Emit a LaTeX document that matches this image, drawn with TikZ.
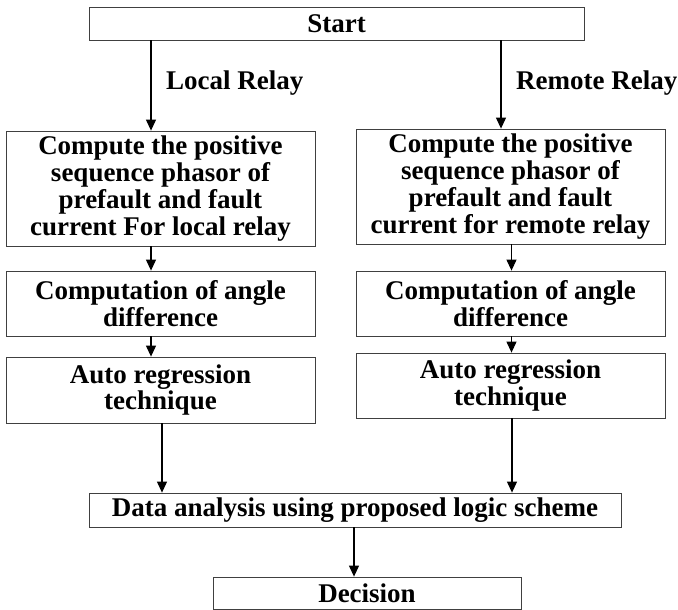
\documentclass[tikz,border=0pt]{standalone}
\usepackage{fontspec}
\setmainfont{Liberation Serif}
\usetikzlibrary{arrows.meta}

\begin{document}
\begin{tikzpicture}[x=1pt, y=-1pt,
	box/.style={rectangle, draw=black!75, line width=0.8pt, fill=white, align=center, inner sep=0pt, minimum width=309pt, font=\fontsize{27}{26.7}\selectfont\bfseries},
	lbl/.style={anchor=west, inner sep=0pt, font=\fontsize{27}{26.7}\selectfont\bfseries},
	arr/.style={-{Triangle[width=10pt,length=11pt]}, draw=black, line width=1.1pt}]
	\useasboundingbox (0,0) rectangle (678,610);
	\node (Start) at (336.5, 23.5)	[box, minimum width=495pt, minimum height=33pt]	{Start};
	\node (L1) at (160.5, 188.5)	[box, minimum height=115pt]	{Compute the positive\\sequence phasor of\\prefault and fault\\current For local relay};
	\node (R1) at (510.5, 186.5)	[box, minimum height=115pt]	{Compute the positive\\sequence phasor of\\prefault and fault\\current for remote relay};
	\node (L2) at (160.5, 303.5)	[box, minimum height=65pt]	{Computation of angle\\difference};
	\node (R2) at (510.5, 303.5)	[box, minimum height=65pt]	{Computation of angle\\difference};
	\node (L3) at (160.5, 390)	[box, minimum height=66pt]	{Auto regression\\technique};
	\node (R3) at (510.5, 385.5)	[box, minimum height=65pt]	{Auto regression\\technique};
	\node (Data) at (355, 510)	[box, minimum width=532pt, minimum height=34pt]	{Data analysis using proposed logic scheme};
	\node (Decision) at (367, 593)	[box, minimum width=308pt, minimum height=32pt]	{Decision};
	\node (LocalLbl) at (166, 83)	[lbl]	{Local Relay};
	\node (RemoteLbl) at (516, 83)	[lbl]	{Remote Relay};
	\draw[arr] ([xshift=-9.5pt]L1.north |- Start.south) -- ([xshift=-9.5pt]L1.north);
	\draw[arr] ([xshift=-9.5pt]R1.north |- Start.south) -- ([xshift=-9.5pt]R1.north);
	\draw[arr] ([xshift=-9.5pt]L1.south) -- ([xshift=-9.5pt]L2.north);
	\draw[arr] ([xshift=1pt]R1.south) -- ([xshift=1pt]R2.north);
	\draw[arr] ([xshift=-9.5pt]L2.south) -- ([xshift=-9.5pt]L3.north);
	\draw[arr] ([xshift=1pt]R2.south) -- ([xshift=1pt]R3.north);
	\draw[arr] ([xshift=1.5pt]L3.south) -- ([xshift=1.5pt]L3.south |- Data.north);
	\draw[arr] ([xshift=1.5pt]R3.south) -- ([xshift=1.5pt]R3.south |- Data.north);
	\draw[arr] ([xshift=-1pt]Data.south) -- ([xshift=-1pt]Data.south |- Decision.north);
\end{tikzpicture}
\end{document}
